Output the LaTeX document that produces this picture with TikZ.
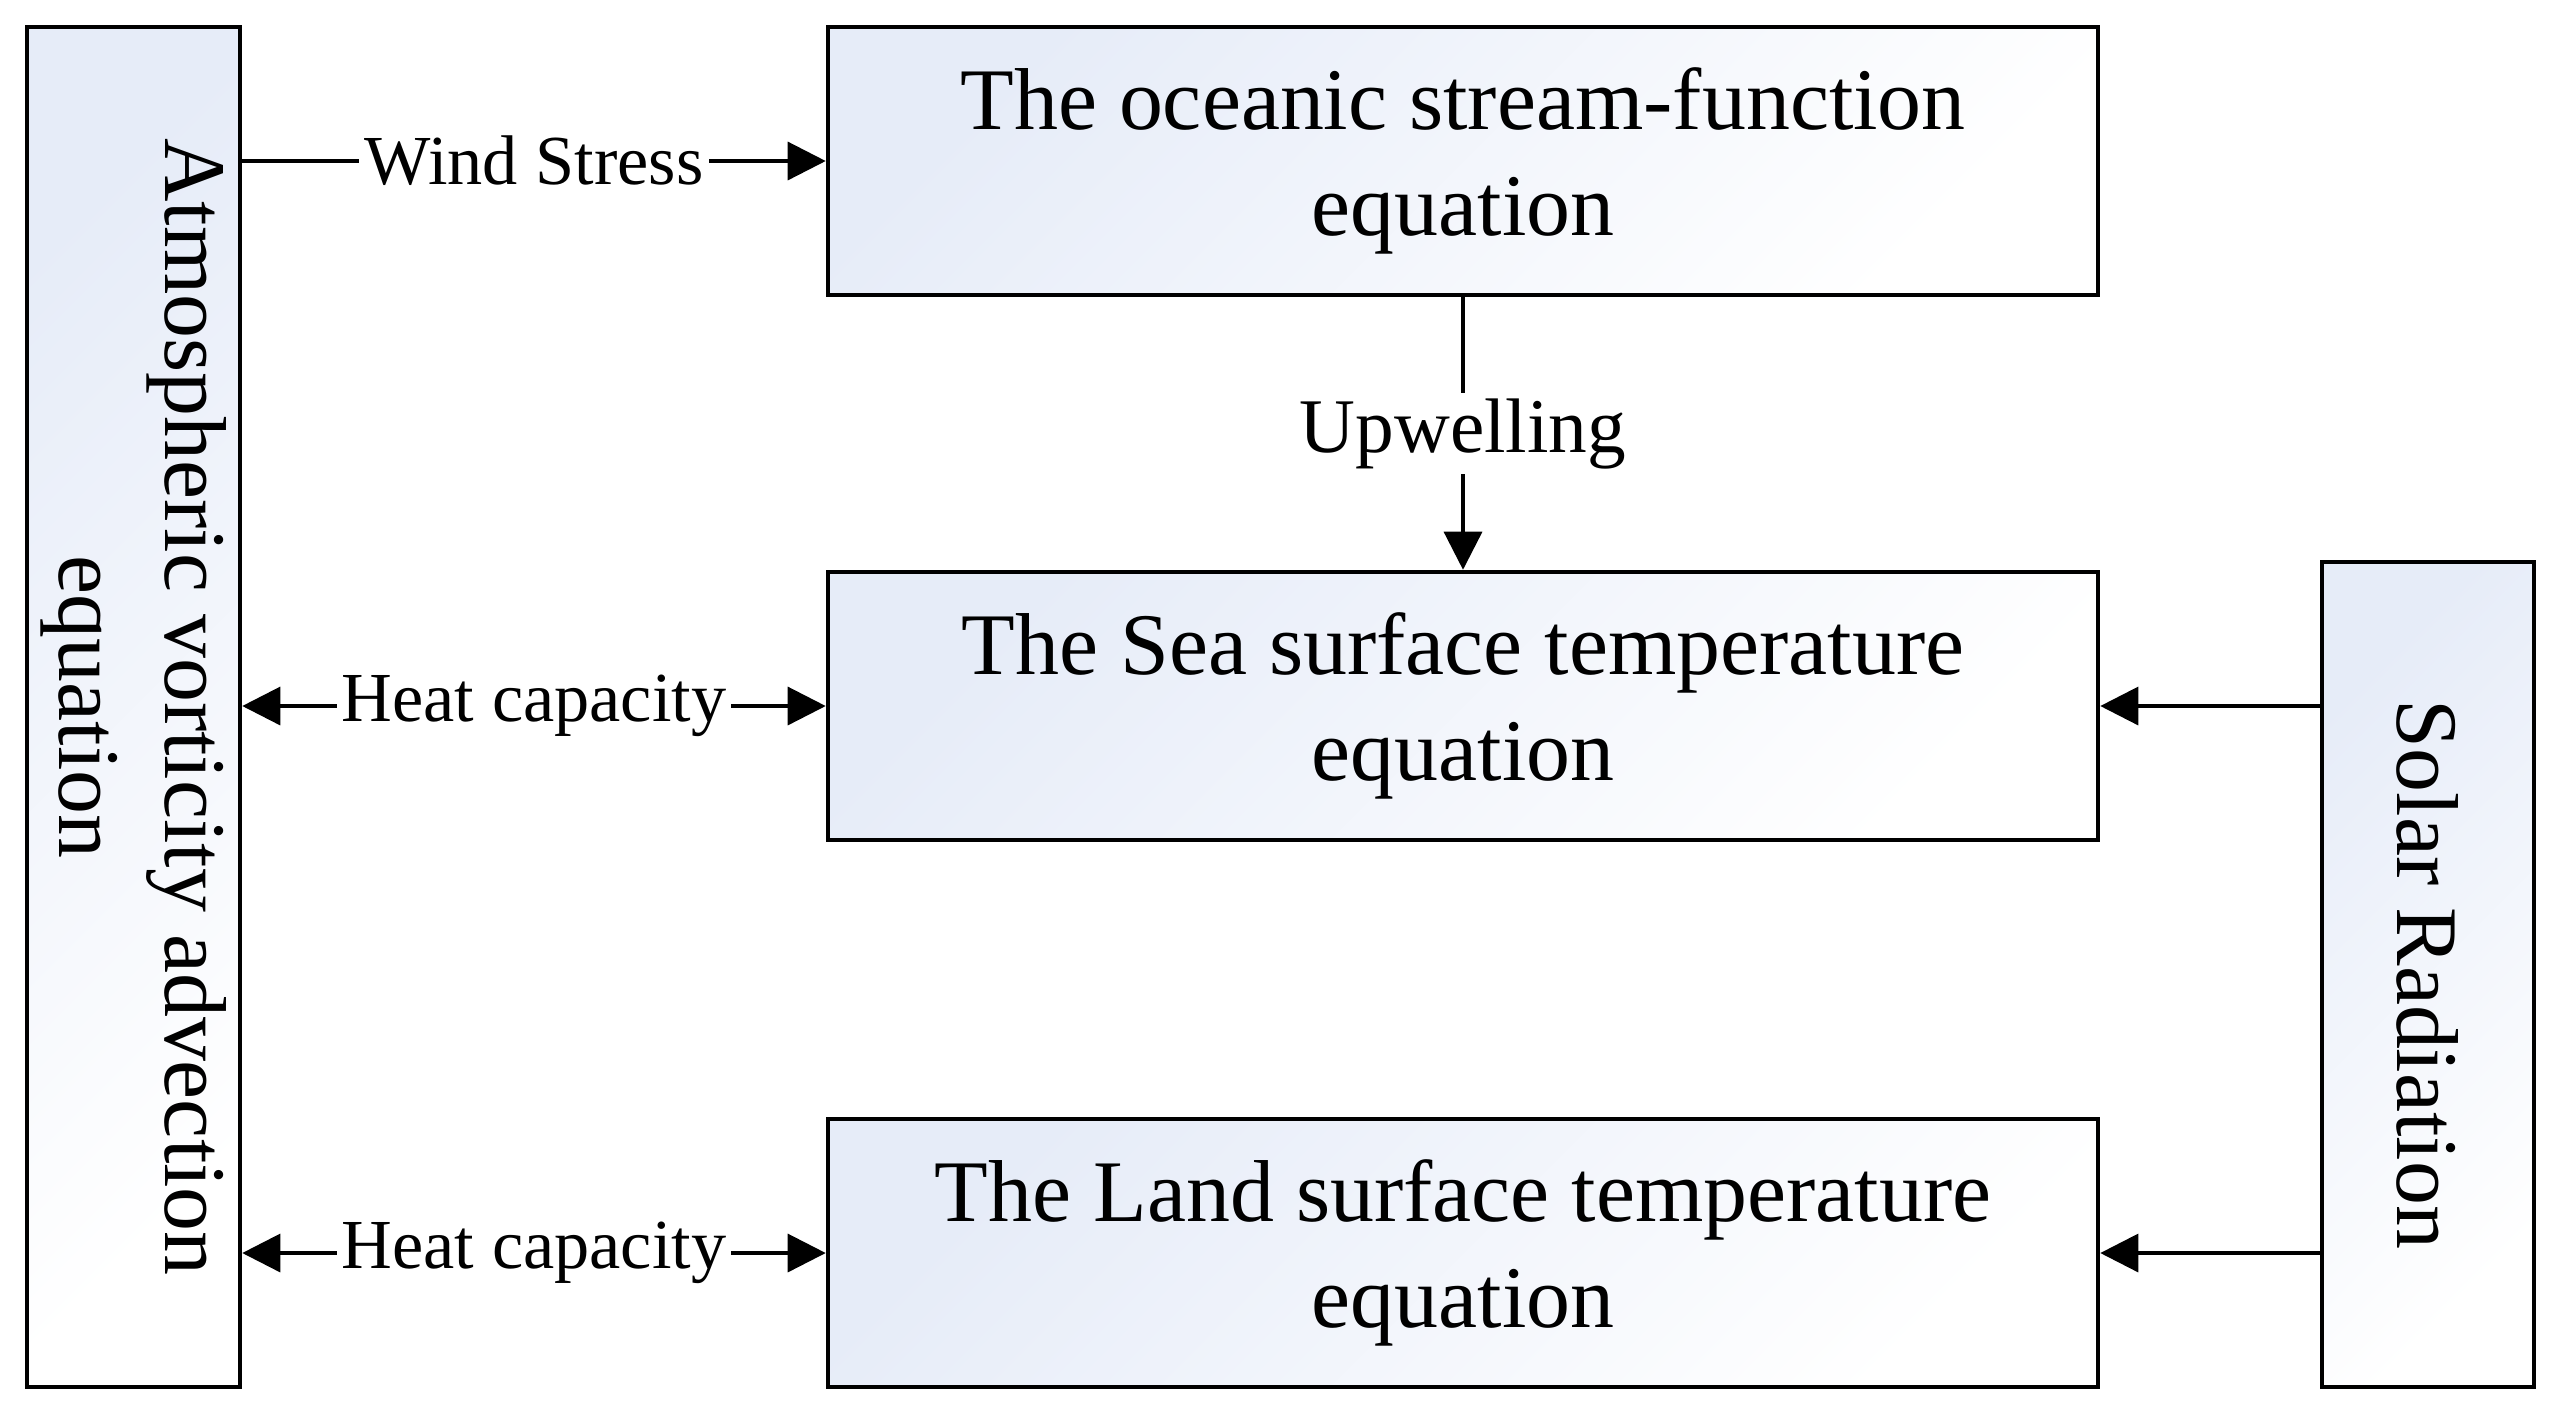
\documentclass[tikz,border=0pt]{standalone}
\usepackage{fontspec}
\setmainfont{Liberation Serif}
\usetikzlibrary{arrows.meta}
\definecolor{gradc}{RGB}{230,236,248}
\begin{document}
\begin{tikzpicture}[
  box/.style={draw=black, line width=1.3pt, top color=gradc, bottom color=white, shading angle=45, inner sep=0pt, font=\fontsize{25}{30.2}\selectfont, align=center},
  conn/.style={line width=0.95pt, -{Triangle[length=0.38cm,width=0.38cm]}},
  bconn/.style={line width=0.95pt, {Triangle[length=0.38cm,width=0.38cm]}-{Triangle[length=0.38cm,width=0.38cm]}},
  lbl/.style={fill=white, inner sep=1.5pt, font=\fontsize{20}{24}\selectfont}
]
\useasboundingbox (0,0) rectangle (25.69,-14.19);
\node[box, minimum width=2.13cm, minimum height=13.60cm] (atm) at (1.335,-7.07)
  {\rotatebox{-90}{\begin{tabular}{@{}c@{}}Atmospheric vorticity advection\\equation\end{tabular}}};
\node[box, minimum width=12.70cm, minimum height=2.68cm] (top) at (14.63,-1.61)
  {The oceanic stream-function\\equation};
\node[box, minimum width=12.70cm, minimum height=2.68cm] (mid) at (14.63,-7.06)
  {The Sea surface temperature\\equation};
\node[box, minimum width=12.70cm, minimum height=2.68cm] (bot) at (14.63,-12.53)
  {The Land surface temperature\\equation};
\node[box, minimum width=2.12cm, minimum height=8.25cm] (sol) at (24.28,-9.745)
  {\rotatebox{-90}{Solar Radiation}};
\draw[conn] (atm.east |- top.west) -- node[lbl]{Wind Stress} (top.west);
\draw[bconn] (atm.east |- mid.west) -- node[lbl]{Heat capacity} (mid.west);
\draw[bconn] (atm.east |- bot.west) -- node[lbl]{Heat capacity} (bot.west);
\draw[conn] (top.south) -- node[lbl, font=\fontsize{22}{26}\selectfont]{Upwelling} (mid.north);
\draw[conn] (sol.west |- mid.east) -- (mid.east);
\draw[conn] (sol.west |- bot.east) -- (bot.east);
\end{tikzpicture}
\end{document}
